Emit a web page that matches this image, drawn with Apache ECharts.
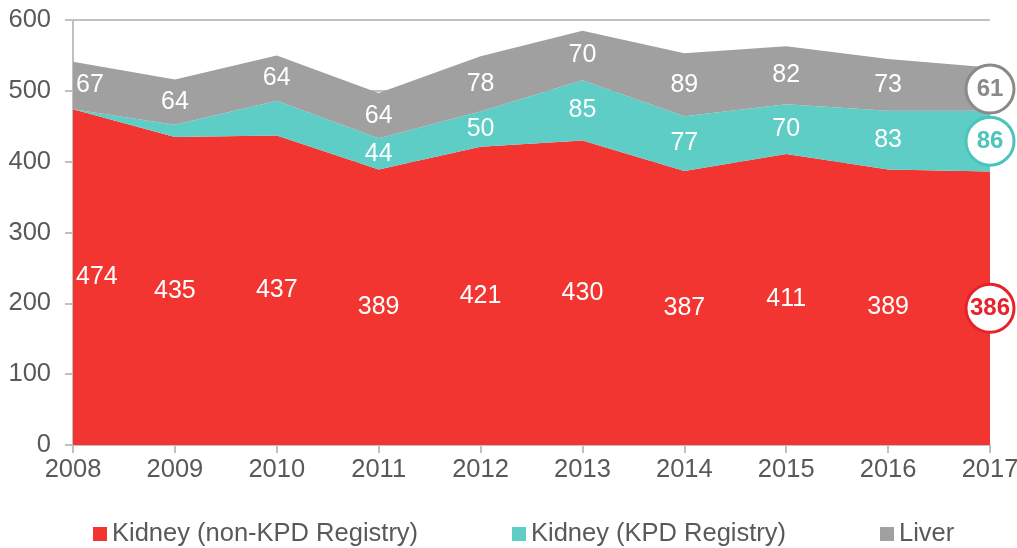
<!DOCTYPE html>
<html>
<head>
<meta charset="utf-8">
<script src="https://cdn.jsdelivr.net/npm/echarts@6/dist/echarts.min.js"></script>
<style>
  html, body { margin: 0; padding: 0; background: #fff; }
  #main { width: 1017px; height: 548px; }
</style>
</head>
<body>
<div id="main"></div>
<script>
var years = ['2008', '2009', '2010', '2011', '2012', '2013', '2014', '2015', '2016', '2017'];
var kidneyNonKpd = [474, 435, 437, 389, 421, 430, 387, 411, 389, 386];
var kidneyKpd = [0, 17, 49, 44, 50, 85, 77, 70, 83, 86];
var liver = [67, 64, 64, 64, 78, 70, 89, 82, 73, 61];
// which KPD values get a printed label
var kpdShown = [false, false, false, true, true, true, true, true, true, true];

var names = ['Kidney (non-KPD Registry)', 'Kidney (KPD Registry)', 'Liver'];
var colors = ['#f23530', '#5ecdc5', '#a0a0a0'];
var circleText = ['#e8222a', '#4cc4bb', '#8a8a8a'];
var last = years.length - 1;
var font = "'Liberation Sans', Arial, sans-serif";

var dom = document.getElementById('main');
var myChart = echarts.init(dom, null, { renderer: 'canvas' });

function areaSeries(name, data, color) {
    return {
        name: name,
        type: 'line',
        stack: 'total',
        data: data,
        symbol: 'none',
        lineStyle: { width: 0 },
        itemStyle: { color: color },
        areaStyle: { color: color, opacity: 1 },
        z: 2
    };
}

// label points sit in the middle of each stacked band
function labelSeries(idx, values, base, shown) {
    var pts = [];
    for (var i = 0; i < values.length; i++) {
        if (shown && !shown[i]) continue;
        var mid = base[i] + values[i] / 2;
        var isLast = i === last;
        var lbl = {};
        if (isLast) lbl = { color: circleText[idx], fontWeight: 'bold', fontSize: 24 };
        else if (i === 0) lbl = { position: 'right', distance: 2 };
        pts.push({
            value: [years[i], mid],
            raw: values[i],
            symbolSize: isLast ? 48 : 2,
            itemStyle: isLast ? { color: '#fff', borderColor: circleText[idx], borderWidth: 3 }
                : { color: 'rgba(255,255,255,0)' },
            label: lbl
        });
    }
    return {
        type: 'scatter',
        symbol: 'circle',
        data: pts,
        z: 5,
        silent: true,
        clip: false,
        itemStyle: { opacity: 1 },
        labelLayout: { hideOverlap: false },
        label: {
            show: true,
            position: 'inside',
            offset: [0, 3],
            color: '#fff',
            fontSize: 25,
            fontFamily: font,
            formatter: function (p) { return String(p.data.raw); }
        }
    };
}

var zeros = years.map(function () { return 0; });
var kpdBase = kidneyNonKpd.slice();
var liverBase = kidneyNonKpd.map(function (v, i) { return v + kidneyKpd[i]; });

var axisColor = '#c0c0c0';
var textStyle = { color: '#595959', fontSize: 25.5, fontFamily: font };

var option = {
    animation: false,
    grid: { left: 73, right: 27, top: 20, bottom: 103, outerBoundsMode: 'none', containLabel: false },
    legend: names.map(function (n, i) {
        return {
            data: [n],
            left: [88, 507, 875][i],
            top: 516,
            itemWidth: 14,
            itemHeight: 14,
            icon: 'rect',
            itemGap: 6,
            textStyle: textStyle
        };
    }),
    xAxis: {
        type: 'category',
        data: years,
        boundaryGap: false,
        axisLine: { lineStyle: { color: axisColor, width: 2 } },
        axisTick: { show: true, alignWithLabel: true, length: 8, lineStyle: { color: axisColor, width: 2 } },
        axisLabel: Object.assign({ margin: 12 }, textStyle)
    },
    yAxis: {
        type: 'value',
        min: 0,
        max: 600,
        interval: 100,
        axisLine: { show: true, lineStyle: { color: axisColor, width: 2 } },
        axisTick: { show: true, length: 8, lineStyle: { color: axisColor, width: 2 } },
        axisLabel: Object.assign({ margin: 22 }, textStyle),
        splitLine: { show: true, lineStyle: { color: axisColor, width: 2 } }
    },
    series: [
        areaSeries(names[0], kidneyNonKpd, colors[0]),
        areaSeries(names[1], kidneyKpd, colors[1]),
        areaSeries(names[2], liver, colors[2]),
        labelSeries(0, kidneyNonKpd, zeros, null),
        labelSeries(1, kidneyKpd, kpdBase, kpdShown),
        labelSeries(2, liver, liverBase, null)
    ]
};

if (option && typeof option === 'object') {
    myChart.setOption(option);
}

window.addEventListener('resize', myChart.resize);
</script>
</body>
</html>
